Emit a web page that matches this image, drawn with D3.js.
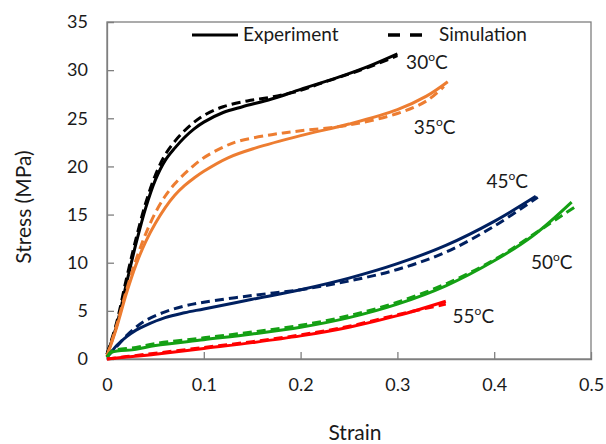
<!DOCTYPE html>
<html>
<head>
<meta charset="utf-8">
<script src="https://cdn.jsdelivr.net/npm/d3@7"></script>
<style>
  html, body { margin: 0; padding: 0; background: #fff; }
  svg { display: block; font-family: Lato, "Open Sans", sans-serif; }
</style>
</head>
<body>
<svg id="chart" width="606" height="444"></svg>
<script>
// Stress–strain curves at five temperatures: experiment (solid) vs simulation (dashed)
const temperatures = ["30", "35", "45", "50", "55"];
const colors = ["#000000", "#ED7D31", "#002060", "#14A014", "#FF0000"];

const strain30Exp = [0, 0.01, 0.02, 0.03, 0.04, 0.05, 0.06, 0.07, 0.08, 0.09, 0.1, 0.12, 0.14, 0.17, 0.2, 0.24, 0.27, 0.3];
const stress30Exp = [0.5, 3.5, 7.8, 12.0, 15.7, 18.6, 20.6, 21.9, 23.0, 23.9, 24.6, 25.6, 26.2, 27.0, 28.0, 29.3, 30.4, 31.7];
const strain30Sim = [0, 0.01, 0.02, 0.03, 0.04, 0.05, 0.06, 0.07, 0.08, 0.09, 0.1, 0.12, 0.145, 0.17, 0.2, 0.22, 0.25, 0.27, 0.3];
const stress30Sim = [0.5, 3.8, 8.3, 12.5, 16.2, 19.1, 21.2, 22.6, 23.7, 24.6, 25.3, 26.2, 26.8, 27.2, 27.9, 28.6, 29.6, 30.3, 31.5];

const strain35Exp = [0, 0.01, 0.02, 0.03, 0.04, 0.05, 0.06, 0.07, 0.08, 0.09, 0.1, 0.125, 0.153, 0.2, 0.25, 0.3, 0.33, 0.352];
const stress35Exp = [0.3, 3.3, 6.8, 9.8, 12.2, 14.1, 15.7, 17.0, 18.0, 18.8, 19.5, 20.9, 21.9, 23.2, 24.4, 25.9, 27.3, 28.8];
const strain35Sim = [0, 0.01, 0.02, 0.03, 0.04, 0.05, 0.06, 0.07, 0.084, 0.1, 0.12, 0.135, 0.17, 0.2, 0.25, 0.3, 0.33, 0.348];
const stress35Sim = [0.3, 3.5, 7.1, 10.3, 13.0, 15.2, 16.9, 18.2, 19.6, 20.9, 22.0, 22.6, 23.3, 23.7, 24.3, 25.5, 26.8, 28.3];

const strain45Exp = [0, 0.005, 0.01, 0.02, 0.03, 0.04, 0.06, 0.08, 0.1, 0.15, 0.2, 0.25, 0.3, 0.35, 0.4, 0.443];
const stress45Exp = [0.2, 0.8, 1.4, 2.3, 3.0, 3.5, 4.3, 4.8, 5.2, 6.2, 7.2, 8.4, 9.9, 11.8, 14.3, 16.9];
const strain45Sim = [0, 0.01, 0.02, 0.03, 0.04, 0.06, 0.08, 0.1, 0.15, 0.2, 0.25, 0.3, 0.35, 0.4, 0.445];
const stress45Sim = [0.2, 1.3, 2.4, 3.3, 4.0, 4.9, 5.5, 5.9, 6.6, 7.2, 8.1, 9.3, 11.1, 13.8, 16.8];

const strain50Exp = [0, 0.005, 0.03, 0.05, 0.1, 0.15, 0.2, 0.25, 0.3, 0.35, 0.4, 0.44, 0.48];
const stress50Exp = [0.2, 0.7, 1.0, 1.4, 2.0, 2.6, 3.3, 4.3, 5.7, 7.6, 10.2, 12.8, 16.3];
const strain50Sim = [0, 0.005, 0.03, 0.05, 0.1, 0.15, 0.2, 0.25, 0.3, 0.35, 0.4, 0.44, 0.485];
const stress50Sim = [0.2, 0.8, 1.2, 1.6, 2.2, 2.8, 3.5, 4.5, 5.9, 7.8, 10.3, 12.9, 15.9];

const strain55Exp = [0, 0.02, 0.05, 0.1, 0.15, 0.2, 0.25, 0.3, 0.35];
const stress55Exp = [0.0, 0.2, 0.5, 1.1, 1.7, 2.4, 3.3, 4.5, 6.0];
const strain55Sim = [0, 0.02, 0.05, 0.1, 0.15, 0.2, 0.25, 0.3, 0.35];
const stress55Sim = [0.0, 0.25, 0.6, 1.2, 1.8, 2.5, 3.4, 4.6, 5.7];

const xTicks = [0, 0.1, 0.2, 0.3, 0.4, 0.5];
const yTicks = [0, 5, 10, 15, 20, 25, 30, 35];

// curve label anchor (strain, stress) for each temperature
const labelStrain = [0.309, 0.317, 0.392, 0.438, 0.357];
const labelStress = [30.1, 23.4, 17.8, 9.3, 3.7];

const series = [
  [strain30Exp, stress30Exp, strain30Sim, stress30Sim],
  [strain35Exp, stress35Exp, strain35Sim, stress35Sim],
  [strain45Exp, stress45Exp, strain45Sim, stress45Sim],
  [strain50Exp, stress50Exp, strain50Sim, stress50Sim],
  [strain55Exp, stress55Exp, strain55Sim, stress55Sim]
];

const svg = d3.select("#chart");
const margin = { left: 107, top: 22, right: 15, bottom: 85 };
const W = 606, H = 444;
const x = d3.scaleLinear().domain([0, 0.5]).range([margin.left, W - margin.right]);
const y = d3.scaleLinear().domain([0, 35]).range([H - margin.bottom, margin.top]);

const axisColor = "#7f7f7f";
const textColor = "#1a1a1a";

// Frame
svg.append("rect")
  .attr("x", x(0)).attr("y", y(35))
  .attr("width", x(0.5) - x(0)).attr("height", y(0) - y(35))
  .attr("fill", "none").attr("stroke", axisColor).attr("stroke-width", 1.3);

// Axes with inward ticks
const xAxis = svg.append("g")
  .attr("transform", `translate(0,${y(0)})`)
  .call(d3.axisBottom(x).tickValues(xTicks).tickSize(-7).tickPadding(19)
    .tickFormat(d => d === 0 ? "0" : d3.format(".1f")(d)));
const yAxis = svg.append("g")
  .attr("transform", `translate(${x(0)},0)`)
  .call(d3.axisLeft(y).tickValues(yTicks).tickSize(-7).tickPadding(19));

[xAxis, yAxis].forEach(g => {
  g.select(".domain").attr("stroke", axisColor).attr("stroke-width", 1.3);
  g.selectAll(".tick line").attr("stroke", axisColor).attr("stroke-width", 1.3);
  g.selectAll(".tick text").attr("fill", textColor).style("font-size", "18px")
    .style("font-family", "Lato, 'Open Sans', sans-serif");
});
xAxis.selectAll(".tick").filter(d => d === 0.5 || d === 0).select("line").remove();
yAxis.selectAll(".tick").filter(d => d === 0 || d === 35).select("line").remove();

// Axis titles
svg.append("text")
  .attr("x", 355).attr("y", 440)
  .attr("text-anchor", "middle").attr("fill", textColor)
  .style("font-size", "21px").text("Strain");
svg.append("text")
  .attr("transform", "translate(31,207) rotate(-90)")
  .attr("text-anchor", "middle").attr("fill", textColor)
  .style("font-size", "21px").text("Stress (MPa)");

// Curves
const line = d3.line().x(d => x(d[0])).y(d => y(d[1])).curve(d3.curveCatmullRom.alpha(0.5));
const plot = svg.append("g");
series.forEach((s, i) => {
  const sim = d3.zip(s[2], s[3]);
  const exp = d3.zip(s[0], s[1]);
  plot.append("path").datum(exp).attr("d", line)
    .attr("fill", "none").attr("stroke", colors[i]).attr("stroke-width", 3);
  plot.append("path").datum(sim).attr("d", line)
    .attr("fill", "none").attr("stroke", colors[i]).attr("stroke-width", 3)
    .attr("stroke-dasharray", "9,5");
});

// Temperature labels
temperatures.forEach((t, i) => {
  const tx = svg.append("text")
    .attr("x", x(labelStrain[i])).attr("y", y(labelStress[i]))
    .attr("fill", textColor).style("font-size", "19px");
  tx.append("tspan").text(t);
  tx.append("tspan").attr("dy", -8).style("font-size", "12px").text("o");
  tx.append("tspan").attr("dy", 8).text("C");
});

// Legend
const legY = 35;
svg.append("line").attr("x1", 192).attr("x2", 238).attr("y1", legY).attr("y2", legY)
  .attr("stroke", "#000").attr("stroke-width", 3);
svg.append("text").attr("x", 243).attr("y", legY + 6).attr("fill", textColor)
  .style("font-size", "19px").text("Experiment");
svg.append("line").attr("x1", 388).attr("x2", 428).attr("y1", legY).attr("y2", legY)
  .attr("stroke", "#000").attr("stroke-width", 3.5).attr("stroke-dasharray", "12,10");
svg.append("text").attr("x", 439).attr("y", legY + 6).attr("fill", textColor)
  .style("font-size", "19px").text("Simulation");
</script>
</body>
</html>
